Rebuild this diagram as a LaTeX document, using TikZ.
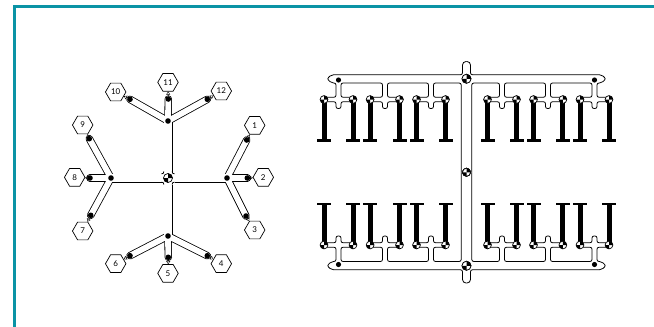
\documentclass[tikz,border=0pt]{standalone}
\usepackage{fontspec}
\setmainfont{Lato}
\usetikzlibrary{shapes.geometric,arrows.meta,backgrounds}
\definecolor{framecol}{HTML}{0A93A5}
\tikzset{
	hexa/.style={draw, regular polygon, regular polygon sides=6, minimum size=20.5pt, inner sep=0pt, line width=.7pt, font=\fontsize{8}{8}\selectfont},
	blackdot/.style={circle, fill=black, minimum size=5.6pt, inner sep=0pt},
	tipline/.style={line width=.4pt, -{Triangle[open,length=3pt,width=4pt]}},
	trunkout/.style={line width=9pt, line cap=round},
	trunkin/.style={line width=7.4pt, white, line cap=round},
	branchout/.style={line width=7.4pt, line cap=round},
	branchin/.style={line width=5.8pt, white, line cap=round},
	pics/quarterdisc/.style={code={
		\fill[white] (0,0) circle (#1);
		\fill[black] (0,0) -- (#1,0) arc (0:-90:#1) -- cycle;
		\fill[black] (0,0) -- (-#1,0) arc (180:90:#1) -- cycle;
		\draw[line width=.7pt] (0,0) circle (#1);
	}}
}
\begin{document}
\begin{tikzpicture}[x=1pt, y=-1pt]
	\useasboundingbox (0,0) rectangle (654,327);
	\draw[framecol, line width=2.6pt] (14.7,327) -- (14.7,6.7) -- (654,6.7);

	\node[inner sep=0pt, minimum size=9pt, circle] (hubC) at (168,178) {};
	\node[blackdot] (hubN) at (168,121) {};
	\node[blackdot] (hubS) at (168,236) {};
	\node[blackdot] (hubW) at (111,178) {};
	\node[blackdot] (hubE) at (227,178) {};

	\foreach \i/\hx/\hy/\dx/\dy in {1/254.7/125.3/246.7/140, 2/263.3/177.3/247.3/178, 3/254.7/230/246/216,
		4/221.3/263.7/207.3/255.7, 5/168/273.3/168.3/257.3, 6/115.7/263.7/130/255.7,
		7/82.7/231/90.7/215.3, 8/74.7/177.3/90/178, 9/82.7/125/89.3/138.7,
		10/115.7/92/130/99.3, 11/168/82.3/168.3/99, 12/221.3/91/207.3/99.3} {
		\node[hexa] (hex\i) at (\hx,\hy) {\i};
		\node[blackdot] (dot\i) at (\dx,\dy) {};
		\draw[tipline] (dot\i) -- (hex\i);
	}

	\begin{pgfonlayer}{background}
		\foreach \a/\b in {hubE/dot1, hubE/dot2, hubE/dot3, hubS/dot4, hubS/dot5, hubS/dot6,
			hubW/dot7, hubW/dot8, hubW/dot9, hubN/dot10, hubN/dot11, hubN/dot12}
			\draw[branchout] (\a.center) -- (\b.center);
		\foreach \b in {hubN, hubS, hubW, hubE}
			\draw[trunkout] (hubC.center) -- (\b.center);
		\foreach \a/\b in {hubE/dot1, hubE/dot2, hubE/dot3, hubS/dot4, hubS/dot5, hubS/dot6,
			hubW/dot7, hubW/dot8, hubW/dot9, hubN/dot10, hubN/dot11, hubN/dot12}
			\draw[branchin] (\a.center) -- (\b.center);
		\foreach \b in {hubN, hubS, hubW, hubE}
			\draw[trunkin] (hubC.center) -- (\b.center);
	\end{pgfonlayer}

	\foreach \r in {0,90,180,270} {
		\begin{scope}[shift={(hubC.center)}, rotate=\r]
			\fill[white] (3.5,3.5) rectangle (6.5,6.5);
			\draw[line width=.8pt] (6.5,4.1) .. controls (5,4.1) and (4.1,5) .. (4.1,6.5);
		\end{scope}
	}
	\pic at (hubC.center) {quarterdisc=4.5};

	\foreach \sx in {1,-1} \foreach \sy in {1,-1} {
		\begin{scope}[shift={(466.5,172.25)}, xscale=\sx, yscale=\sy]
			\draw[line width=.8pt, rounded corners=2pt]
				(-5.3,0) -- (-5.3,-89.25) -- (-33,-89.25) -- (-33,-75) -- (-21,-75) -- (-21,-70.5) -- (-33,-70.5)
				-- (-33,-63.75) -- (-38,-63.75) -- (-38,-70.5) -- (-50,-70.5) -- (-50,-75) -- (-38,-75)
				-- (-38,-89.25) -- (-79,-89.25) -- (-79,-75) -- (-67,-75) -- (-67,-70.5) -- (-79,-70.5)
				-- (-79,-63.75) -- (-84,-63.75) -- (-84,-70.5) -- (-96.4,-70.5) -- (-96.4,-75) -- (-84,-75)
				-- (-84,-89.25) -- (-125.5,-89.25) -- (-125.5,-75) -- (-113.5,-75) -- (-113.5,-70.5) -- (-125.5,-70.5)
				-- (-125.5,-63.75) -- (-130.5,-63.75) -- (-130.5,-70.5) -- (-142.5,-70.5) -- (-142.5,-75) -- (-130.5,-75)
				-- (-130.5,-89.25) -- (-135,-89.25) -- (-139.5,-93.5) -- (-135,-97.5) -- (-4,-97.5)
				[rounded corners=3.5pt] -- (-4,-110.75) -- (0,-110.75);
			\foreach \u in {-21,-50,-67,-96.4,-113.5,-142.5} {
				\fill (\u-2.5,-72) rectangle (\u+2.5,-32);
				\fill (\u-7,-32.8) rectangle (\u+7,-30.5);
				\pic at (\u,-72.75) {quarterdisc=3.9};
			}
			\fill (-128,-92.25) circle (2.6);
			\pic at (0,-93.5) {quarterdisc=4.5};
			\pic at (0,0) {quarterdisc=4};
		\end{scope}
	}
\end{tikzpicture}
\end{document}
